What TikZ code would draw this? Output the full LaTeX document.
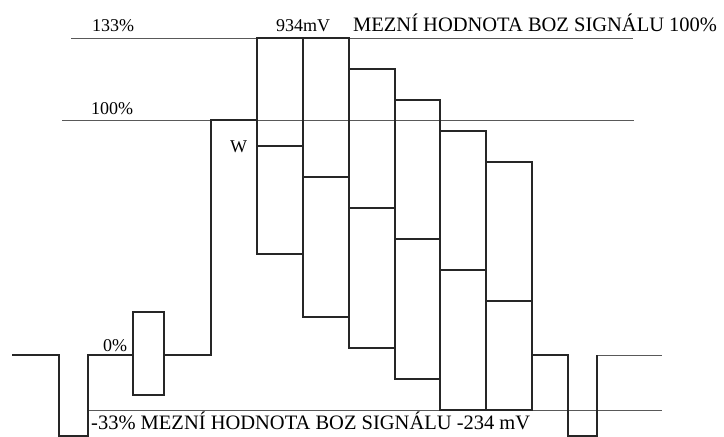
\documentclass[tikz,border=0pt]{standalone}
\usepackage{fontspec}
\setmainfont{Liberation Serif}
\usepackage{tikz}

\tikzset{
  signal/.style={line width=1.6pt, black!85, line join=miter},
  level/.style={line width=0.8pt, black!65},
  lbl/.style={anchor=base west, inner sep=0pt, font=\fontsize{18}{20}\selectfont},
  longlbl/.style={lbl, font=\fontsize{20.5}{22}\selectfont},
}

\begin{document}
\begin{tikzpicture}[x=1pt,y=-1pt]
      \useasboundingbox (0,0) rectangle (724,437);

      \coordinate (top-a)  at (71,38);
      \coordinate (top-b)  at (633,38);
      \coordinate (full-a) at (62,120);
      \coordinate (full-b) at (634,120);
      \coordinate (low-a)  at (88,410);
      \coordinate (low-b)  at (662,410);
      \coordinate (zero-a) at (597,355);
      \coordinate (zero-b) at (662,355);

      \coordinate (in-0)  at (12,355);
      \coordinate (in-1)  at (59,355);
      \coordinate (in-2)  at (59,436);
      \coordinate (in-3)  at (88,436);
      \coordinate (in-4)  at (88,355);
      \coordinate (in-5)  at (133,355);
      \coordinate (in-6)  at (164,355);
      \coordinate (in-7)  at (211,355);
      \coordinate (in-8)  at (211,120);
      \coordinate (in-9)  at (257,120);
      \coordinate (out-0) at (532,355);
      \coordinate (out-1) at (568,355);
      \coordinate (out-2) at (568,436);
      \coordinate (out-3) at (597,436);

      \draw[level] (top-a)  -- (top-b);
      \draw[level] (full-a) -- (full-b);
      \draw[level] (low-a)  -- (low-b);
      \draw[level] (zero-a) -- (zero-b);

      \draw[signal] (in-0) -- (in-1) -- (in-2) -- (in-3) -- (in-4) -- (in-5);
      \draw[signal] (133,312) rectangle (164,395);
      \draw[signal] (in-6) -- (in-7) -- (in-8) -- (in-9);

      \draw[signal] (257,38)  rectangle (303,254) (257,146) -- (303,146);
      \draw[signal] (303,38)  rectangle (349,317) (303,177) -- (349,177);
      \draw[signal] (349,69)  rectangle (395,348) (349,208) -- (395,208);
      \draw[signal] (395,100) rectangle (440,379) (395,239) -- (440,239);
      \draw[signal] (440,131) rectangle (486,410) (440,270) -- (486,270);
      \draw[signal] (486,162) rectangle (532,410) (486,301) -- (532,301);

      \draw[signal] (out-0) -- (out-1) -- (out-2) -- (out-3) -- (zero-a);

      \node[lbl] (pct-133)  at (92,31)   {133\%};
      \node[lbl] (pct-100)  at (91,114)  {100\%};
      \node[lbl] (pct-0)    at (103,351) {0\%};
      \node[lbl] (mark-w)   at (230,152) {W};
      \node[lbl] (peak-mv)  at (276,31)  {934mV};
      \node[longlbl] (limit-hi) at (353,31)  {MEZNÍ HODNOTA BOZ SIGNÁLU 100\%};
      \node[longlbl] (limit-lo) at (91,429)  {-33\% MEZNÍ HODNOTA BOZ SIGNÁLU -234 mV};
    \end{tikzpicture}
\end{document}
